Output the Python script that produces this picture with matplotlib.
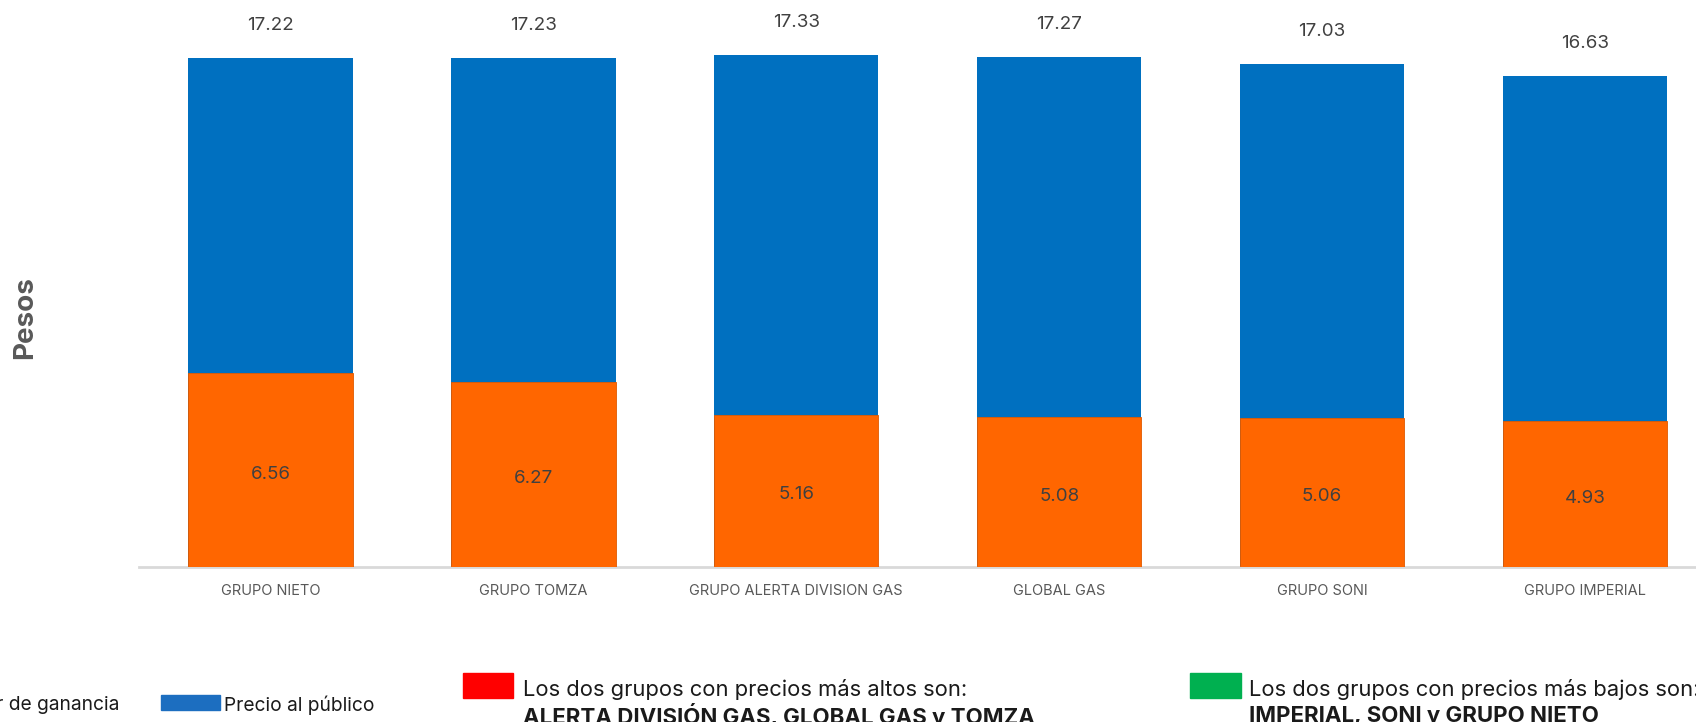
import matplotlib.pyplot as plt
from matplotlib.patches import Rectangle

# dati
grupos = ["GRUPO NIETO", "GRUPO TOMZA", "GRUPO ALERTA DIVISION GAS",
          "GLOBAL GAS", "GRUPO SONI", "GRUPO IMPERIAL"]
precio_publico = [17.22, 17.23, 17.33, 17.27, 17.03, 16.63]
ganancia = [6.56, 6.27, 5.16, 5.08, 5.06, 4.93]

azul = "#0070C0"
naranja = "#FF6600"
gris = "#595959"

plt.rcParams['font.family'] = ['Inter', 'DejaVu Sans']

fig = plt.figure(figsize=(16.96, 7.22), dpi=100)
ax = fig.add_axes([0.082, 0.2147, 0.93, 0.7853])  # l'asse esce a destra come nell'originale

x = range(len(grupos))
ax.bar(x, precio_publico, width=0.625, color=azul, zorder=2)
ax.bar(x, ganancia, width=0.625, color=naranja, edgecolor="#E05A00", linewidth=0.6, zorder=3)

# etichette dei valori
for i in x:
    ax.annotate(f"{precio_publico[i]:.2f}", (i, precio_publico[i]), xytext=(0, 23.5),
                textcoords="offset points", ha="center", va="center",
                fontsize=13.5, color="#404040")
    ax.annotate(f"{ganancia[i]:.2f}", (i, ganancia[i] / 2), xytext=(0, -3),
                textcoords="offset points", ha="center", va="center",
                fontsize=13.5, color="#404040", zorder=4)

ax.set_xlim(-0.5, 5.5)
ax.set_ylim(0, 19.2)
ax.set_xticks(list(x))
ax.set_xticklabels(grupos, fontsize=10.5, color=gris)
ax.tick_params(axis="x", length=0, pad=12)
ax.set_yticks([])
for s in ["top", "right", "left"]:
    ax.spines[s].set_visible(False)
ax.spines["bottom"].set_color("#D9D9D9")
ax.spines["bottom"].set_linewidth(2)

fig.text(0.0147, 0.5596, "Pesos", rotation=90, ha="center", va="center",
         fontsize=20, fontweight="bold", color=gris)

# legenda in basso (tagliata come nell'immagine)
fig.patches.append(Rectangle((-0.06, 0.0166), 0.035, 0.0208, color=naranja,
                             transform=fig.transFigure, figure=fig))
fig.text(0.0705, 0.023, "Valor de ganancia", ha="right", va="center", fontsize=13.8, color="#1a1a1a")
fig.patches.append(Rectangle((161 / 1696, 0.0166), 59 / 1696, 0.0208, color="#1C6EC0",
                             transform=fig.transFigure, figure=fig))
fig.text(224 / 1696, 0.023, "Precio al público", ha="left", va="center", fontsize=13.8, color="#1a1a1a")

fig.patches.append(Rectangle((463 / 1696, 0.0332), 50 / 1696, 0.0346, color="#FF0000",
                             transform=fig.transFigure, figure=fig))
fig.text(523 / 1696, 0.0457, "Los dos grupos con precios más altos son:", ha="left", va="center",
         fontsize=15.8, color="#1a1a1a")
fig.text(523 / 1696, 0.009, "ALERTA DIVISIÓN GAS, GLOBAL GAS y TOMZA", ha="left", va="center",
         fontsize=16, fontweight="bold", color="#1a1a1a")

fig.patches.append(Rectangle((1190 / 1696, 0.0332), 51 / 1696, 0.0346, color="#00B050",
                             transform=fig.transFigure, figure=fig))
fig.text(1249 / 1696, 0.0457, "Los dos grupos con precios más bajos son:", ha="left", va="center",
         fontsize=15.8, color="#1a1a1a")
fig.text(1249 / 1696, 0.009, "IMPERIAL, SONI y GRUPO NIETO", ha="left", va="center",
         fontsize=16, fontweight="bold", color="#1a1a1a")

fig.savefig("out.png", dpi=100)
